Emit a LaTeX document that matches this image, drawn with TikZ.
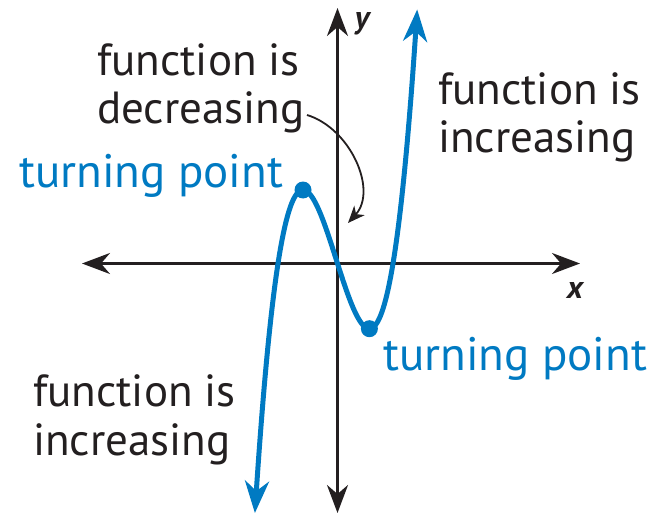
\documentclass[tikz,border=0pt]{standalone}
\usepackage{fontspec}
\setmainfont{PT Sans}
\usetikzlibrary{arrows.meta}
\definecolor{gblue}{RGB}{0,122,194}
\definecolor{ink}{RGB}{35,31,32}
\begin{document}
\begin{tikzpicture}[x=1pt,y=-1pt,
  lbl/.style={inner sep=0pt, anchor=base west, align=left, text=ink, font=\fontsize{45}{48.5}\selectfont},
  blbl/.style={inner sep=0pt, anchor=base west, text=gblue, font=\fontsize{47}{50}\selectfont},
  axlbl/.style={inner sep=0pt, anchor=base, text=ink, font=\fontsize{32}{36}\selectfont\itshape\bfseries},
  axis/.style={draw=ink, line width=2.6pt, {Stealth[length=28pt,width=21pt,inset=9pt]}-{Stealth[length=28pt,width=21pt,inset=9pt]}},
  curve/.style={draw=gblue, line width=5pt, {Stealth[length=32pt,width=24pt,inset=10pt]}-{Stealth[length=32pt,width=24pt,inset=10pt]}},
  dot/.style={circle, fill=gblue, inner sep=0pt, minimum size=17pt},
  pointer/.style={draw=ink, line width=1.8pt, -{Stealth[length=17pt,width=14pt,inset=5pt]}}
]
\useasboundingbox (0,0) rectangle (656,516);
% axes
\coordinate (xl) at (82,263.5);
\coordinate (xr) at (580,263.5);
\coordinate (yt) at (337.5,8);
\coordinate (yb) at (337.5,513);
\draw[axis] (xl) -- (xr);
\draw[axis] (yb) -- (yt);
\node[axlbl] (xlab) at (575,298) {x};
\node[axlbl] (ylab) at (362,29) {y};
% cubic
\draw[curve] plot[domain=-8.26:7.97, samples=150, smooth] ({337.5+10*\x},{263.5-0.947*\x*(\x+5.95)*(\x-5.55)});
\node[dot] (tpmax) at (303,190) {};
\node[dot] (tpmin) at (369.4,328.7) {};
% labels (base anchor = baseline of last line)
\node[lbl] (dec) at (97,124) {function is\\decreasing};
\node[lbl] (incr) at (438,153) {function is\\increasing};
\node[lbl] (incl) at (33,455) {function is\\increasing};
\node[blbl] (tplab1) at (19,187) {turning point};
\node[blbl] (tplab2) at (383,370) {turning point};
% pointer
\coordinate (decs) at (307,115);
\coordinate (dece) at (348,223);
\draw[pointer] (decs) .. controls (350,128) and (378,190) .. (dece);
\end{tikzpicture}
\end{document}
